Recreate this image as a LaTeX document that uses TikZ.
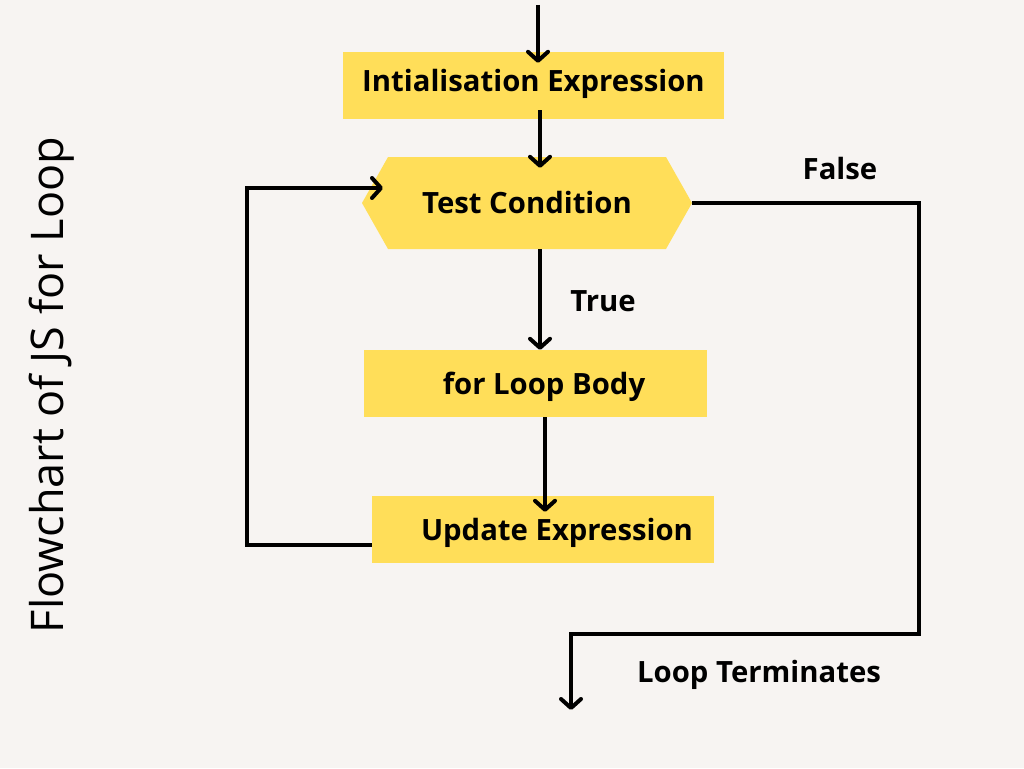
\documentclass[tikz,border=0pt]{standalone}
\usepackage{fontspec}
\setmainfont{Open Sans}
\usetikzlibrary{arrows.meta,shapes.symbols}
\definecolor{bgpaper}{HTML}{F7F4F2}
\definecolor{boxyellow}{HTML}{FFDE59}
\begin{document}
\begin{tikzpicture}[x=1pt,y=-1pt,
    box/.style={fill=boxyellow,minimum height=67pt,inner sep=0pt,
      text height=24pt,text depth=3pt,
      font=\fontsize{29.3}{34}\selectfont\bfseries},
    flow/.style={line width=4pt,
      -{Straight Barb[length=9pt,width=20pt,round]}},
    lbl/.style={font=\fontsize{29.3}{34}\selectfont\bfseries}]
  \fill[bgpaper] (0,0) rectangle (1024,768);
  \useasboundingbox (0,0) rectangle (1024,768);
  % title
  \node[rotate=90,font=\fontsize{45}{52}\selectfont] (title) at (52,385) {Flowchart of JS for Loop};
  % boxes
  \node[box,minimum width=381pt,text height=19pt,text depth=7pt] (init) at (533.5,85.5) {Intialisation Expression};
  \node[box,signal,signal to=west and east,signal pointer angle=121,
    minimum width=330pt,minimum height=92pt] (test) at (527,203) {Test Condition};
  \node[box,minimum width=343pt] (body) at (535.5,383.5) {\hspace*{17pt}for Loop Body};
  \node[box,minimum width=342pt] (update) at (543,529.5) {\hspace*{28pt}Update Expression};
  % labels
  \node[lbl] (false) at (840,169) {False};
  \node[lbl] (true) at (603,301) {True};
  \node[lbl] (done) at (759,675) {Loop Terminates};
  % free ends
  \coordinate (start) at (538,5);
  \coordinate (back) at (383,188);
  \coordinate (finish) at (571,710);
  % connectors
  \draw[flow,shorten >=-11pt] (start) -- (start |- init.north);
  \draw[flow,shorten <=-9pt,shorten >=-11pt] ([xshift=6.5pt]init.south) -- ([xshift=13pt]test.north);
  \draw[flow] ([xshift=13pt]test.south) -- ([xshift=4.5pt]body.north);
  \draw[flow,shorten >=-16pt] ([xshift=9.5pt]body.south) -- ([xshift=2pt]update.north);
  \draw[flow] ([yshift=-15.5pt]update.west) -| (247,188) -- (back);
  \draw[flow] (test.east) -| (919,634) -| (finish);
\end{tikzpicture}
\end{document}
